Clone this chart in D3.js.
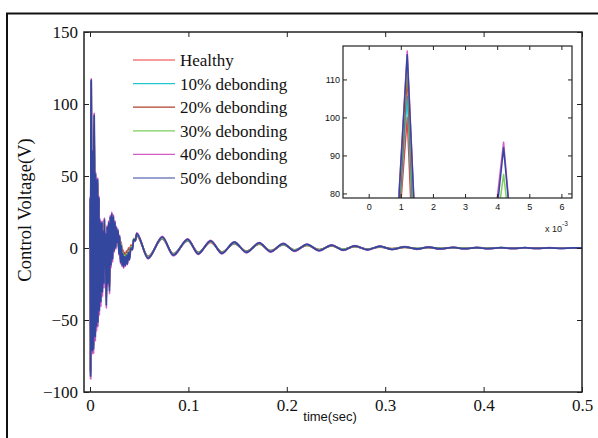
<!DOCTYPE html>
<html><head><meta charset="utf-8">
<script src="https://cdn.jsdelivr.net/npm/d3@7/dist/d3.min.js"></script>
<style>
html,body{margin:0;padding:0;background:#fff;}
svg{display:block;}
</style></head>
<body>
<svg id="chart" width="598" height="438"></svg>
<script>
// ---------- DATA ----------
const timeMs = [0,0.3,0.6,0.95,1.2,1.45,1.75,2.05,2.35,2.65, 2.95,3.25,3.55,3.95,4.2,4.45,4.75,5.05,5.35,5.65,
  5.95,6.3,6.65,7.0,7.35,7.7,8.05,8.4,8.75,9.1, 9.45,9.8,10.2,10.6,11.0,11.4,11.8,12.2,12.6,13.0, 13.4,13.8,14.2,14.6,15.0,
  15.8,16.6,17.4,18.2,19.0,19.8,20.6,21.4,22.2,23.0, 23.8,24.6,25.4,26.2,27.0,27.8,28.6,29.4,30.2,31.0,
  31.8,32.6,33.4,34.2,35.0,36,37,38,39,40, 41.5,43,44.5,46,47.5,
  59,73.5,84.7,99.3,110,122.6,134,146.7,159,172, 183.6,196.5,208,220.5,233,245.6,257.5,269,282,294.7,
  307,320,332,344,356,369,381,393,405,418, 430,442,454,467,479,491,500];

const healthy = [0,31,-84,72,100,50,-49,59,-66,54, -44,62,-64,60,70,58,-39,44,-56,46, -34,42,-49,39,-29,42,-46,30,-24,29, -38,16,-20,14,-32,11,-16,14,-26,8, -11,6,-20,16,-8,
  6,-34,11,-20,14,-25,18,-8,20,-4, 18,2,14,3,11,6,9,-1,6,-7, 4,-9,-1,-10,-3,-9,-2,-8,0,-5, 2,1,6,5,8.5,
  -5.8,6.4,-4,5,-3,4,-2.8,3.1,-2.2,2.7, -1.8,2.3,-1.4,1.9,-1.2,1.5,-0.9,1,-0.7,0.7, -0.5,0.5,-0.4,0.3,-0.3,0.2,-0.2,0.1,-0.1,0.1, -0.1,0.1,-0.1,0,0,0,0];
const deb10 = [0,32,-85,73.6,105.5,56,-50,60,-67,55, -45,63,-65,62,74,60,-40,45,-57,47, -35,43,-50,40,-30,43,-47,31,-25,30, -39,17,-21,15,-33,12,-17,15,-27,9, -12,7,-21,17,-9,
  7,-35,12,-21,15,-26,19,-9,21,-5, 19,1,15,2,12,5,10,-2,6,-8, 3,-10,-2,-11,-4,-10,-3,-9,-1,-6, 1,0.5,6,5,9,
  -6,6.6,-4.2,5.2,-3.2,4.2,-3,3.3,-2.4,2.9, -1.9,2.4,-1.5,2,-1.3,1.6,-1,1.1,-0.8,0.8, -0.6,0.6,-0.4,0.4,-0.3,0.2,-0.3,0.2,-0.2,0.1, -0.1,0.1,-0.1,0.1,-0.1,0,0];
const deb20 = [0,33,-86,75.8,111,62.6,-52,62,-69,57, -47,65,-67,65,77,62,-42,47,-59,49, -37,45,-52,42,-32,45,-49,33,-27,32, -41,18,-22,16,-35,13,-18,16,-28,10, -13,8,-22,18,-10,
  8,-37,13,-22,16,-27,20,-10,22,-6, 20,0,16,2,12,5,10,-2,7,-8, 3,-10,-2,-11,-4,-10,-3,-9,-1,-6, 1.5,0.5,6.5,5.5,9,
  -6.2,6.8,-4.4,5.4,-3.4,4.4,-3.1,3.4,-2.5,3, -2,2.5,-1.6,2.1,-1.4,1.7,-1.1,1.2,-0.9,0.9, -0.6,0.6,-0.5,0.4,-0.4,0.3,-0.3,0.2,-0.2,0.1, -0.2,0.1,-0.1,0.1,-0.1,0,0];
const deb30 = [0,34,-87,78.5,115,66,-53,63,-70,58, -48,66,-68,69,85,67,-43,48,-60,50, -38,46,-53,43,-33,46,-50,34,-28,33, -42,19,-23,17,-36,14,-19,17,-29,11, -14,9,-23,19,-11,
  9,-38,14,-23,17,-28,21,-11,23,-7, 21,-1,17,1,13,5,11,-3,7,-9, 3,-11,-3,-12,-5,-11,-4,-10,-2,-7, 1,0,6.5,5.5,9.5,
  -6.5,7,-4.6,5.6,-3.6,4.6,-3.3,3.6,-2.7,3.2, -2.2,2.7,-1.7,2.2,-1.5,1.8,-1.2,1.3,-1,1, -0.7,0.7,-0.5,0.5,-0.4,0.3,-0.3,0.3,-0.2,0.2, -0.2,0.1,-0.2,0.1,-0.1,0.1,0];
const deb40 = [0,36,-91,81,117.5,70.6,-58,66,-74,61, -53,69,-73,75,93.5,69,-48,51,-65,53, -43,49,-58,46,-38,49,-55,37,-33,36, -47,21,-28,19,-41,16,-23,19,-34,13, -18,11,-28,21,-14,
  11,-42,16,-27,19,-32,23,-14,25,-10, 23,-3,19,-1,15,3,13,-5,9,-11, 1,-13,-5,-14,-7,-12.5,-6,-11.5,-4,-8.5, -0.5,-1.5,5.5,5,10.5,
  -7.5,8,-5.5,6.4,-4.4,5.3,-4,4.3,-3.3,3.7, -2.8,3.2,-2.3,2.7,-2,2.2,-1.7,1.7,-1.4,1.3, -1.1,0.9,-0.9,0.7,-0.8,0.5,-0.7,0.4,-0.6,0.3, -0.5,0.2,-0.5,0.2,-0.4,0.1,0];
const deb50 = [0,35,-89,80.5,116.5,70,-55,65,-72,60, -50,68,-70,72,92,69,-45,50,-62,52, -40,48,-55,45,-35,48,-52,36,-30,35, -44,20,-25,18,-38,15,-20,18,-31,12, -15,10,-25,20,-12,
  10,-40,15,-25,18,-30,22,-12,24,-8, 22,-2,18,0,14,4,12,-4,8,-10, 2,-12,-4,-13,-6,-12,-5,-11,-3,-8, 0,-1,6,5,10,
  -7,7.5,-5,6,-4,5,-3.7,4,-3,3.5, -2.5,3,-2,2.5,-1.8,2,-1.5,1.5,-1.2,1.2, -0.9,0.8,-0.7,0.6,-0.6,0.4,-0.5,0.3,-0.4,0.2, -0.3,0.2,-0.3,0.1,-0.2,0.1,0];

const seriesNames = ["Healthy","10% debonding","20% debonding","30% debonding","40% debonding","50% debonding"];
const seriesValues = [healthy, deb10, deb20, deb30, deb40, deb50];
const xTicks = [0,0.1,0.2,0.3,0.4,0.5];
const yTicks = [-100,-50,0,50,100,150];
const insetXTicks = [0,1,2,3,4,5,6];
const insetYTicks = [80,90,100,110];

// ---------- STYLE ----------
const colors = ["#ee3b3b","#22c6cf","#b1402a","#7fcf5c","#d45ac4","#34479f"];
const serif = "'Liberation Serif','Times New Roman',serif";
const sans = "'Liberation Sans',Arial,sans-serif";

const svg = d3.select("#chart");
const W = 598, H = 438;
const m = {left:84, right:582, top:32, bottom:392};

// outer frame (left and top edges visible)
svg.append("line").attr("x1",7).attr("x2",7).attr("y1",13).attr("y2",H).attr("stroke","#111").attr("stroke-width",2);
svg.append("line").attr("x1",6).attr("x2",W).attr("y1",13.5).attr("y2",13.5).attr("stroke","#111").attr("stroke-width",2);

const x = d3.scaleLinear().domain([-0.0061,0.5]).range([m.left,m.right]);
const y = d3.scaleLinear().domain([-100,150]).range([m.bottom,m.top]);

const defs = svg.append("defs");
defs.append("clipPath").attr("id","mainclip").append("rect")
  .attr("x",m.left).attr("y",m.top).attr("width",m.right-m.left).attr("height",m.bottom-m.top);

// series lines (main)
const gLines = svg.append("g").attr("clip-path","url(#mainclip)");
seriesValues.forEach((vals,i)=>{
  const pts = timeMs.map((t,k)=>[t/1000, vals[k]]);
  const line = d3.line().x(d=>x(d[0])).y(d=>y(d[1])).curve(d3.curveMonotoneX);
  gLines.append("path").attr("d",line(pts)).attr("fill","none")
    .attr("stroke",colors[i]).attr("stroke-width",1.8).attr("stroke-linejoin","round");
});

// axes
function styleAxis(g, showLabels, fontFamily, fontSize){
  g.select(".domain").remove();
  g.selectAll(".tick line").attr("stroke","#222").attr("stroke-width",1);
  g.selectAll(".tick text").attr("fill","#111").style("font-family",fontFamily).style("font-size",fontSize+"px");
  if(!showLabels) g.selectAll(".tick text").remove();
}
const fmtX = d => d===0 ? "0" : d3.format(".1f")(d);
svg.append("g").attr("transform",`translate(0,${m.bottom})`)
  .call(d3.axisBottom(x).tickValues(xTicks).tickFormat(fmtX).tickSizeInner(-5).tickSizeOuter(0).tickPadding(7))
  .call(g=>styleAxis(g,true,serif,17));
svg.append("g").attr("transform",`translate(0,${m.top})`)
  .call(d3.axisTop(x).tickValues(xTicks).tickSizeInner(-5).tickSizeOuter(0))
  .call(g=>styleAxis(g,false,serif,17));
svg.append("g").attr("transform",`translate(${m.left},0)`)
  .call(d3.axisLeft(y).tickValues(yTicks).tickFormat(d3.format("d")).tickSizeInner(-5).tickSizeOuter(0).tickPadding(6))
  .call(g=>styleAxis(g,true,serif,17));
svg.append("g").attr("transform",`translate(${m.right},0)`)
  .call(d3.axisRight(y).tickValues(yTicks).tickSizeInner(-5).tickSizeOuter(0))
  .call(g=>styleAxis(g,false,serif,17));
svg.append("rect").attr("x",m.left).attr("y",m.top).attr("width",m.right-m.left).attr("height",m.bottom-m.top)
  .attr("fill","none").attr("stroke","#222").attr("stroke-width",1.5);

// axis titles
svg.append("text").attr("transform",`translate(31,210) rotate(-90)`).attr("text-anchor","middle")
  .style("font-family",serif).style("font-size","18.6px").attr("fill","#111").text("Control Voltage(V)");
svg.append("text").attr("x",330).attr("y",421).attr("text-anchor","middle")
  .style("font-family",sans).style("font-size","13px").attr("fill","#111").text("time(sec)");

// legend
const lg = svg.append("g");
seriesNames.forEach((name,i)=>{
  const cy = 60 + i*23.6;
  lg.append("line").attr("x1",133).attr("x2",175).attr("y1",cy).attr("y2",cy)
    .attr("stroke",colors[i]).attr("stroke-width",1.2);
  lg.append("text").attr("x",180).attr("y",cy+6).style("font-family",serif).style("font-size","17px")
    .attr("fill","#111").text(name);
});

// ---------- INSET ----------
const ib = {left:343, right:572, top:46, bottom:198};
const xi = d3.scaleLinear().domain([-0.8,6.33]).range([ib.left,ib.right]);
const yi = d3.scaleLinear().domain([78.8,118.8]).range([ib.bottom,ib.top]);
svg.append("rect").attr("x",ib.left).attr("y",ib.top).attr("width",ib.right-ib.left).attr("height",ib.bottom-ib.top)
  .attr("fill","#fff");
defs.append("clipPath").attr("id","insetclip").append("rect")
  .attr("x",ib.left).attr("y",ib.top).attr("width",ib.right-ib.left).attr("height",ib.bottom-ib.top);
const gi = svg.append("g").attr("clip-path","url(#insetclip)");
seriesValues.forEach((vals,i)=>{
  const pts = timeMs.map((t,k)=>[t, vals[k]]);
  const line = d3.line().x(d=>xi(d[0])).y(d=>yi(d[1]));
  gi.append("path").attr("d",line(pts)).attr("fill","none")
    .attr("stroke",colors[i]).attr("stroke-width",1.5).attr("stroke-linejoin","round");
});
svg.append("g").attr("transform",`translate(0,${ib.bottom})`)
  .call(d3.axisBottom(xi).tickValues(insetXTicks).tickSizeInner(-4).tickSizeOuter(0).tickPadding(6))
  .call(g=>styleAxis(g,true,sans,9));
svg.append("g").attr("transform",`translate(0,${ib.top})`)
  .call(d3.axisTop(xi).tickValues(insetXTicks).tickSizeInner(-4).tickSizeOuter(0))
  .call(g=>styleAxis(g,false,sans,9));
svg.append("g").attr("transform",`translate(${ib.left},0)`)
  .call(d3.axisLeft(yi).tickValues(insetYTicks).tickSizeInner(-4).tickSizeOuter(0).tickPadding(3))
  .call(g=>styleAxis(g,true,sans,9));
svg.append("g").attr("transform",`translate(${ib.right},0)`)
  .call(d3.axisRight(yi).tickValues(insetYTicks).tickSizeInner(-4).tickSizeOuter(0))
  .call(g=>styleAxis(g,false,sans,9));
svg.append("rect").attr("x",ib.left).attr("y",ib.top).attr("width",ib.right-ib.left).attr("height",ib.bottom-ib.top)
  .attr("fill","none").attr("stroke","#222").attr("stroke-width",1.2);
const mult = svg.append("text").attr("x",545).attr("y",232).style("font-family",sans).style("font-size","9px").attr("fill","#222");
mult.append("tspan").text("x 10");
mult.append("tspan").attr("dy",-6).style("font-size","6.5px").text("-3");
</script>
</body></html>
